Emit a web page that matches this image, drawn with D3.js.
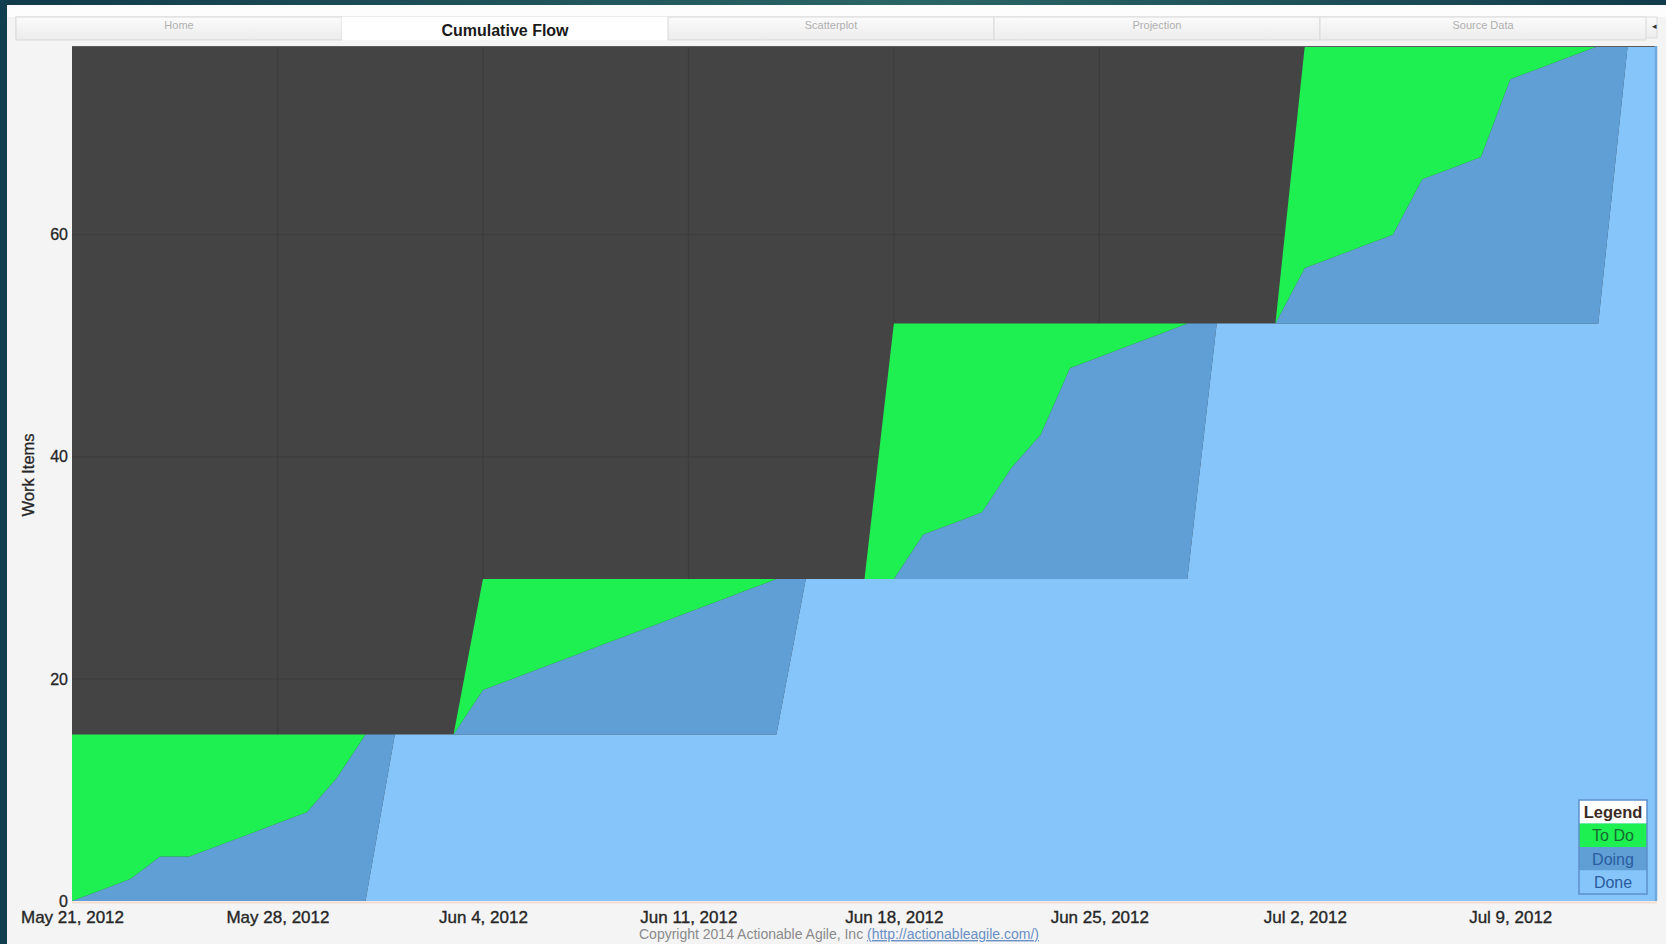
<!DOCTYPE html>
<html>
<head>
<meta charset="utf-8">
<script src="https://cdnjs.cloudflare.com/ajax/libs/d3/7.8.5/d3.min.js"></script>
<style>
  html, body { margin: 0; padding: 0; background: #f4f4f4; overflow: hidden; }
  svg { display: block; font-family: "Liberation Sans", Arial, Helvetica, sans-serif; }
</style>
</head>
<body>
<svg id="chart" width="1666" height="944"></svg>
<script>
// ---- data: one entry per calendar day, starting on the first day below ----
const firstDay = "2012-05-21";
const doneCounts = [
  0, 0, 0, 0, 0, 0, 0, 0, 0, 0, 0,
  15, 15, 15, 15, 15, 15, 15, 15, 15, 15, 15, 15, 15, 15,
  29, 29, 29, 29, 29, 29, 29, 29, 29, 29, 29, 29, 29, 29,
  52, 52, 52, 52, 52, 52, 52, 52, 52, 52, 52, 52, 52, 52,
  77, 77
];
const doingCounts = [
  0, 1, 2, 4, 4, 5, 6, 7, 8, 11, 15,
  0, 0, 0, 4, 5, 6, 7, 8, 9, 10, 11, 12, 13, 14,
  0, 0, 0, 0, 4, 5, 6, 10, 13, 19, 20, 21, 22, 23,
  0, 0, 0, 5, 6, 7, 8, 13, 14, 15, 22, 23, 24, 25,
  0, 0
];
const toDoCounts = [
  15, 14, 13, 11, 11, 10, 9, 8, 7, 4, 0,
  0, 0, 0, 10, 9, 8, 7, 6, 5, 4, 3, 2, 1, 0,
  0, 0, 0, 23, 19, 18, 17, 13, 10, 4, 3, 2, 1, 0,
  0, 0, 0, 20, 19, 18, 17, 12, 11, 10, 3, 2, 1, 0,
  0, 0
];
const seriesKeys = ["done", "doing", "todo"];
const seriesNames = ["Done", "Doing", "To Do"];
const seriesColors = ["#86c5fa", "#5f9fd6", "#1df050"];

const weekTickDates = ["2012-05-21", "2012-05-28", "2012-06-04", "2012-06-11",
                       "2012-06-18", "2012-06-25", "2012-07-02", "2012-07-09"];
const weekTickLabels = ["May 21, 2012", "May 28, 2012", "Jun 4, 2012", "Jun 11, 2012",
                        "Jun 18, 2012", "Jun 25, 2012", "Jul 2, 2012", "Jul 9, 2012"];
const yTickValues = [0, 20, 40, 60];
const yMax = 77;

const tabLabels = ["Home", "Cumulative Flow", "Scatterplot", "Projection", "Source Data"];
const activeTab = 1;

// ---- layout ----
const W = 1666, H = 944;
const plot = { left: 72, right: 1657, top: 46, bottom: 901 };

const svg = d3.select("#chart");
const defs = svg.append("defs");

const parseDay = d3.timeParse("%Y-%m-%d");
const day0 = parseDay(firstDay);
const rows = doneCounts.map((v, i) => ({
  date: d3.timeDay.offset(day0, i),
  done: v,
  doing: doingCounts[i],
  todo: toDoCounts[i]
}));

const x = d3.scaleTime()
  .domain([rows[0].date, rows[rows.length - 1].date])
  .range([plot.left, plot.right]);
const y = d3.scaleLinear().domain([0, yMax]).range([plot.bottom, plot.top]);

// ---- page frame ----
svg.append("rect").attr("width", W).attr("height", H).attr("fill", "#f4f4f4");
svg.append("rect").attr("x", 0).attr("y", 5).attr("width", W).attr("height", 12).attr("fill", "#fdfdfd");

const topGrad = defs.append("linearGradient").attr("id", "topband").attr("x1", "0").attr("x2", "1");
topGrad.append("stop").attr("offset", "0").attr("stop-color", "#113b4b");
topGrad.append("stop").attr("offset", "0.55").attr("stop-color", "#2b6666");
topGrad.append("stop").attr("offset", "1").attr("stop-color", "#123c4c");
svg.append("rect").attr("x", 0).attr("y", 0).attr("width", W).attr("height", 5).attr("fill", "url(#topband)");
svg.append("rect").attr("x", 0).attr("y", 0).attr("width", 7).attr("height", H).attr("fill", "#123f4f");

// ---- tab strip ----
const tabGrad = defs.append("linearGradient").attr("id", "tabgrad").attr("x1", "0").attr("x2", "0").attr("y1", "0").attr("y2", "1");
tabGrad.append("stop").attr("offset", "0").attr("stop-color", "#fbfbfb");
tabGrad.append("stop").attr("offset", "1").attr("stop-color", "#ececec");

const tabLeft = 16, tabTop = 17, tabBottom = 38, tabRight = 1646;
const tabX = d3.scaleBand().domain(tabLabels).range([tabLeft, tabRight]);
svg.append("rect").attr("x", tabLeft).attr("y", tabTop).attr("width", plot.right - tabLeft)
  .attr("height", tabBottom - tabTop).attr("fill", "url(#tabgrad)").attr("stroke", "#dcdcdc");
const tabs = svg.append("g").selectAll("g").data(tabLabels).join("g");
tabs.append("rect")
  .attr("x", d => tabX(d)).attr("y", tabTop)
  .attr("width", tabX.bandwidth()).attr("height", tabBottom - tabTop + 2)
  .attr("fill", (d, i) => i === activeTab ? "#ffffff" : "url(#tabgrad)")
  .attr("stroke", (d, i) => i === activeTab ? "none" : "#dadada");
tabs.append("text")
  .attr("x", d => tabX(d) + tabX.bandwidth() / 2)
  .attr("y", (d, i) => i === activeTab ? 36 : 29)
  .attr("text-anchor", "middle")
  .attr("font-size", (d, i) => i === activeTab ? 16 : 11)
  .attr("font-weight", (d, i) => i === activeTab ? "bold" : "normal")
  .attr("fill", (d, i) => i === activeTab ? "#1a1a1a" : "#b0b0b0")
  .text(d => d);
svg.append("text").attr("x", 1654).attr("y", 29).attr("text-anchor", "middle")
  .attr("font-size", 9).attr("fill", "#333").text("◂");

// ---- plot background and grid ----
svg.append("rect")
  .attr("x", plot.left).attr("y", plot.top)
  .attr("width", plot.right - plot.left).attr("height", plot.bottom - plot.top)
  .attr("fill", "#444444");

const grid = svg.append("g").attr("stroke", "#3c3c3c").attr("stroke-width", 1.2);
grid.selectAll("line.v").data(weekTickDates.slice(1)).join("line")
  .attr("x1", d => x(parseDay(d))).attr("x2", d => x(parseDay(d)))
  .attr("y1", plot.top).attr("y2", plot.bottom);
grid.selectAll("line.h").data(yTickValues.slice(1)).join("line")
  .attr("x1", plot.left).attr("x2", plot.right)
  .attr("y1", d => y(d)).attr("y2", d => y(d));

// ---- stacked cumulative-flow areas ----
const stacked = d3.stack().keys(seriesKeys)(rows);
const area = d3.area()
  .x(d => x(d.data.date))
  .y0(d => y(d[0]))
  .y1(d => y(d[1]));
svg.append("g").selectAll("path").data(stacked).join("path")
  .attr("d", area)
  .attr("fill", (d, i) => seriesColors[i]);

// plot edges
svg.append("line").attr("x1", plot.left).attr("x2", plot.right).attr("y1", plot.top + 0.5).attr("y2", plot.top + 0.5)
  .attr("stroke", "#5c5c5c").attr("stroke-width", 1);
svg.append("line").attr("x1", plot.right - 1).attr("x2", plot.right - 1).attr("y1", plot.top).attr("y2", plot.bottom)
  .attr("stroke", "#6ea9dc").attr("stroke-width", 2.5);
svg.append("line").attr("x1", plot.left).attr("x2", plot.right).attr("y1", plot.bottom + 1.5).attr("y2", plot.bottom + 1.5)
  .attr("stroke", "#f3ddd0").attr("stroke-width", 2);

// ---- axes ----
const xAxis = d3.axisBottom(x)
  .tickValues(weekTickDates.map(parseDay))
  .tickFormat((d, i) => weekTickLabels[i])
  .tickSize(0).tickPadding(10);
const gx = svg.append("g").attr("transform", `translate(0,${plot.bottom})`).call(xAxis);
gx.select(".domain").remove();
gx.selectAll("text").attr("font-size", 17).attr("fill", "#262626")
  .attr("stroke", "#262626").attr("stroke-width", 0.35)
  .attr("font-family", "'Liberation Sans', Arial, sans-serif");

const yAxis = d3.axisLeft(y).tickValues(yTickValues).tickSize(0).tickPadding(4);
const gy = svg.append("g").attr("transform", `translate(${plot.left},0)`).call(yAxis);
gy.select(".domain").remove();
gy.selectAll("text").attr("font-size", 16).attr("fill", "#262626")
  .attr("stroke", "#262626").attr("stroke-width", 0.3)
  .attr("font-family", "'Liberation Sans', Arial, sans-serif");

svg.append("text")
  .attr("transform", `translate(34,475) rotate(-90)`)
  .attr("text-anchor", "middle")
  .attr("font-size", 16.5).attr("fill", "#262626")
  .attr("stroke", "#262626").attr("stroke-width", 0.3)
  .text("Work Items");

// ---- legend ----
const legend = { x: 1579, y: 800, w: 68, rowH: 23.5 };
const legendRows = [
  { label: "Legend", fill: "#ffffff", color: "#3a2b25", bold: true },
  { label: seriesNames[2], fill: seriesColors[2], color: "#166a30" },
  { label: seriesNames[1], fill: seriesColors[1], color: "#2b5c9e" },
  { label: seriesNames[0], fill: seriesColors[0], color: "#2b5c9e" }
];
const lg = svg.append("g");
lg.selectAll("rect.row").data(legendRows).join("rect")
  .attr("x", legend.x).attr("y", (d, i) => legend.y + i * legend.rowH)
  .attr("width", legend.w).attr("height", legend.rowH)
  .attr("fill", d => d.fill);
lg.append("rect").attr("x", legend.x).attr("y", legend.y)
  .attr("width", legend.w).attr("height", legend.rowH * legendRows.length)
  .attr("fill", "none").attr("stroke", "#5d90cc").attr("stroke-width", 1.5);
lg.selectAll("text").data(legendRows).join("text")
  .attr("x", legend.x + legend.w / 2)
  .attr("y", (d, i) => legend.y + i * legend.rowH + legend.rowH / 2 + 6)
  .attr("text-anchor", "middle")
  .attr("font-size", d => d.bold ? 16.5 : 16)
  .attr("font-weight", d => d.bold ? "bold" : "normal")
  .attr("fill", d => d.color)
  .text(d => d.label);

// ---- footer ----
const foot = svg.append("text").attr("x", 839).attr("y", 939).attr("text-anchor", "middle")
  .attr("font-size", 14);
foot.append("tspan").attr("fill", "#8a8a8a").text("Copyright 2014 Actionable Agile, Inc ");
foot.append("tspan").attr("fill", "#6a8fc4").attr("text-decoration", "underline")
  .text("(http://actionableagile.com/)");
</script>
</body>
</html>
